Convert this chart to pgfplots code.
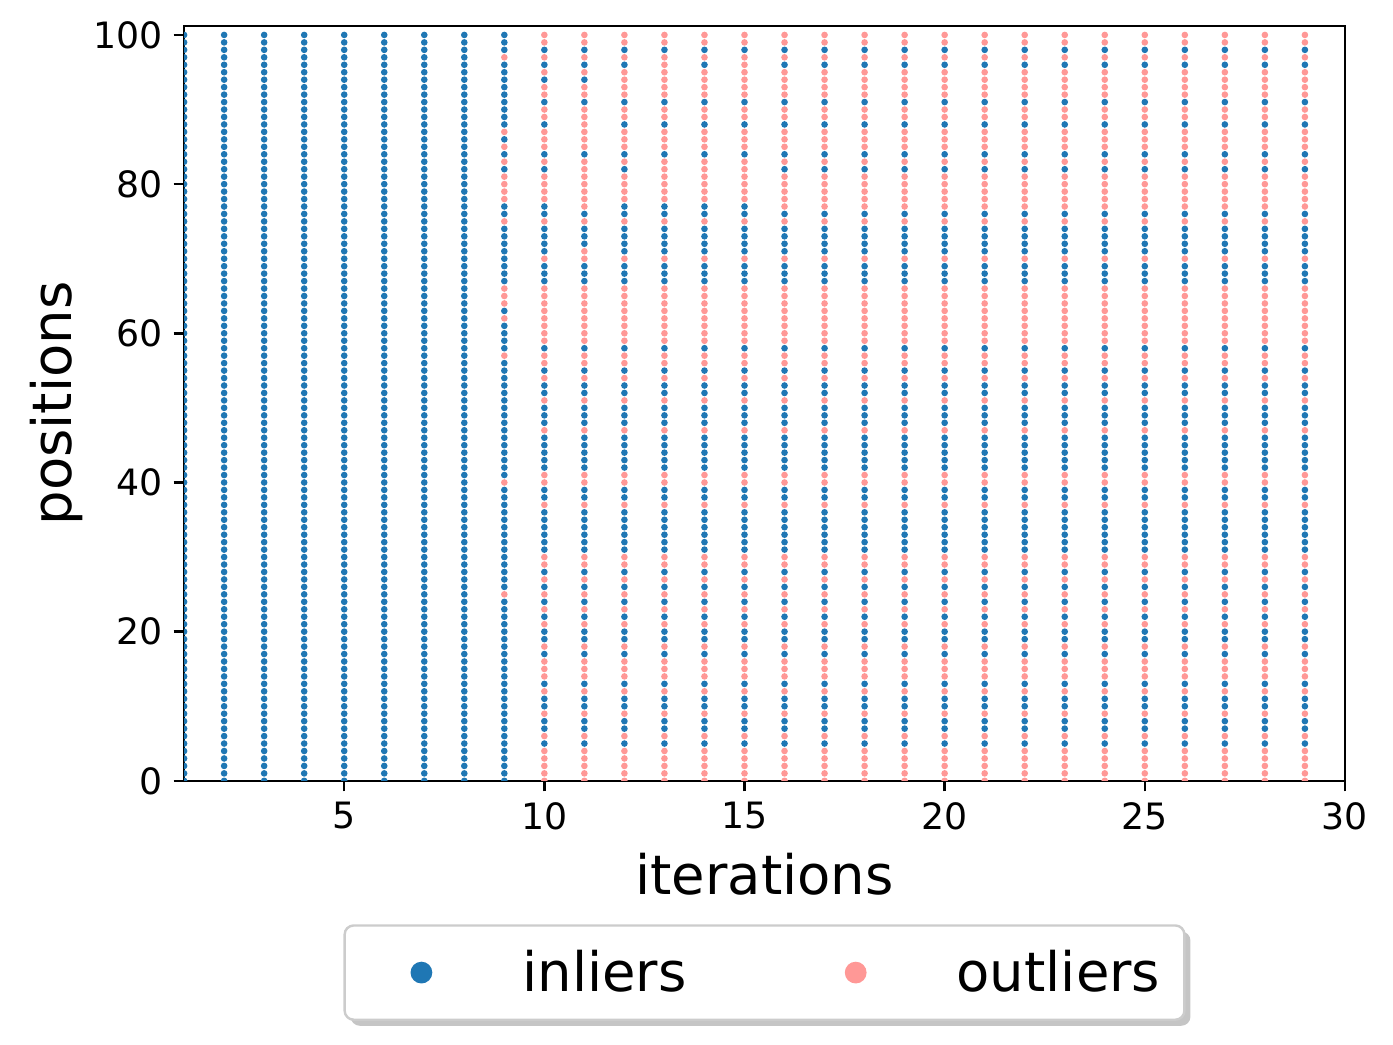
\documentclass[border=0pt]{standalone}
\usepackage{fontspec}
\setmainfont{DejaVu Sans}
\usepackage{pgfplots}
\usepackage{pgfplotstable}
\pgfplotsset{compat=1.18}
\usetikzlibrary{shadows}

\definecolor{inl}{HTML}{1F77B4}
\definecolor{outl}{HTML}{FF9896}

% label of each position (row) at each iteration (column): 0 = inlier, 1 = outlier
\pgfplotstableread{
p   i1 i2 i3 i4 i5 i6 i7 i8 i9 i10 i11 i12 i13 i14 i15 i16 i17 i18 i19 i20 i21 i22 i23 i24 i25 i26 i27 i28 i29
100  0 0 0 0 0 0 0 0  0  1 1 1 1 1 1  1 1 1 1 1 1 1 1 1 1 1 1 1 1
99   0 0 0 0 0 0 0 0  0  1 1 1 1 1 1  1 1 1 1 1 1 1 1 1 1 1 1 1 1
98   0 0 0 0 0 0 0 0  0  0 0 0 0 0 0  0 0 0 0 0 0 0 0 0 0 0 0 0 0
97   0 0 0 0 0 0 0 0  1  1 1 1 1 1 1  1 1 1 1 1 1 1 1 1 1 1 1 1 1
96   0 0 0 0 0 0 0 0  0  0 0 0 1 0 1  0 0 0 0 0 0 0 0 0 0 0 0 0 0
95   0 0 0 0 0 0 0 0  0  1 1 1 1 1 1  1 1 1 1 1 1 1 1 1 1 1 1 1 1
94   0 0 0 0 0 0 0 0  0  0 0 1 1 1 1  1 1 1 1 1 1 1 1 1 1 1 1 1 1
93   0 0 0 0 0 0 0 0  0  1 1 1 1 1 1  1 1 1 1 1 1 1 1 1 1 1 1 1 1
92   0 0 0 0 0 0 0 0  0  1 1 1 1 1 1  1 1 1 1 1 1 1 1 1 1 1 1 1 1
91   0 0 0 0 0 0 0 0  0  0 0 0 0 0 0  0 0 0 0 0 0 0 0 0 0 0 0 0 0
90   0 0 0 0 0 0 0 0  0  1 1 1 1 1 1  1 1 1 1 1 1 1 1 1 1 1 1 1 1
89   0 0 0 0 0 0 0 0  0  1 1 1 1 1 1  1 1 1 1 1 1 1 1 1 1 1 1 1 1
88   0 0 0 0 0 0 0 0  0  0 1 0 0 0 0  0 0 0 0 0 0 0 0 0 0 0 0 0 0
87   0 0 0 0 0 0 0 0  1  1 1 1 1 1 1  1 1 1 1 1 1 1 1 1 1 1 1 1 1
86   0 0 0 0 0 0 0 0  0  1 1 1 1 1 1  1 1 1 1 1 1 1 1 1 1 1 1 1 1
85   0 0 0 0 0 0 0 0  1  1 1 1 1 1 1  1 1 1 1 1 1 1 1 1 1 1 1 1 1
84   0 0 0 0 0 0 0 0  0  0 0 0 0 0 0  0 0 0 0 0 0 0 0 0 0 0 0 0 0
83   0 0 0 0 0 0 0 0  1  1 1 1 1 1 1  1 1 1 1 1 1 1 1 1 1 1 1 1 1
82   0 0 0 0 0 0 0 0  0  0 1 0 1 1 1  0 0 0 0 0 0 0 0 0 0 0 0 0 0
81   0 0 0 0 0 0 0 0  1  1 1 1 1 1 1  1 1 1 1 1 1 1 1 1 1 1 1 1 1
80   0 0 0 0 0 0 0 0  1  1 1 1 1 1 1  1 1 1 1 1 1 1 1 1 1 1 1 1 1
79   0 0 0 0 0 0 0 0  1  1 1 1 1 1 1  1 1 1 1 1 1 1 1 1 1 1 1 1 1
78   0 0 0 0 0 0 0 0  1  1 1 1 1 1 1  1 1 1 1 1 1 1 1 1 1 1 1 1 1
77   0 0 0 0 0 0 0 0  0  0 1 0 0 0 0  1 1 1 1 1 1 1 1 1 1 1 1 1 1
76   0 0 0 0 0 0 0 0  0  0 0 0 0 0 0  0 0 0 0 0 0 0 0 0 0 0 0 0 0
75   0 0 0 0 0 0 0 0  1  1 1 1 1 1 1  1 1 1 1 1 1 1 1 1 1 1 1 1 1
74   0 0 0 0 0 0 0 0  0  0 0 0 0 0 0  0 0 0 0 0 0 0 0 0 0 0 0 0 0
73   0 0 0 0 0 0 0 0  0  0 0 0 0 0 0  0 0 0 0 0 0 0 0 0 0 0 0 0 0
72   0 0 0 0 0 0 0 0  0  0 0 0 0 0 0  0 0 0 0 0 0 0 0 0 0 0 0 0 0
71   0 0 0 0 0 0 0 0  0  0 1 0 0 0 0  0 0 0 0 0 0 0 0 0 0 0 0 0 0
70   0 0 0 0 0 0 0 0  0  1 1 1 1 1 1  1 1 1 1 1 1 1 1 1 1 1 1 1 1
69   0 0 0 0 0 0 0 0  0  0 0 0 0 0 0  0 0 0 0 0 0 0 0 0 0 0 0 0 0
68   0 0 0 0 0 0 0 0  0  0 0 0 0 0 0  0 0 0 0 0 0 0 0 0 0 0 0 0 0
67   0 0 0 0 0 0 0 0  0  0 0 0 0 0 0  0 0 0 0 0 0 0 0 0 0 0 0 0 0
66   0 0 0 0 0 0 0 0  1  1 1 1 1 1 1  1 1 1 1 1 1 1 1 1 1 1 1 1 1
65   0 0 0 0 0 0 0 0  1  1 1 1 1 1 1  1 1 1 1 1 1 1 1 1 1 1 1 1 1
64   0 0 0 0 0 0 0 0  1  1 1 1 1 1 1  1 1 1 1 1 1 1 1 1 1 1 1 1 1
63   0 0 0 0 0 0 0 0  0  1 1 1 1 1 1  1 1 1 1 1 1 1 1 1 1 1 1 1 1
62   0 0 0 0 0 0 0 0  1  1 1 1 1 1 1  1 1 1 1 1 1 1 1 1 1 1 1 1 1
61   0 0 0 0 0 0 0 0  0  1 1 1 1 1 1  1 1 1 1 1 1 1 1 1 1 1 1 1 1
60   0 0 0 0 0 0 0 0  0  1 1 1 1 1 1  1 1 1 1 1 1 1 1 1 1 1 1 1 1
59   0 0 0 0 0 0 0 0  0  1 1 1 1 1 1  1 1 1 1 1 1 1 1 1 1 1 1 1 1
58   0 0 0 0 0 0 0 0  0  0 0 0 0 0 0  0 0 0 0 0 0 0 0 0 0 0 0 0 0
57   0 0 0 0 0 0 0 0  1  1 1 1 1 1 1  1 1 1 1 1 1 1 1 1 1 1 1 1 1
56   0 0 0 0 0 0 0 0  0  1 1 1 1 1 1  1 1 1 1 1 1 1 1 1 1 1 1 1 1
55   0 0 0 0 0 0 0 0  0  0 0 0 0 0 0  0 0 0 0 0 0 0 0 0 0 0 0 0 0
54   0 0 0 0 0 0 0 0  0  1 1 1 1 1 1  1 1 1 1 1 1 1 1 1 1 1 1 1 1
53   0 0 0 0 0 0 0 0  0  0 0 0 0 0 0  0 0 0 0 0 0 0 0 0 0 0 0 0 0
52   0 0 0 0 0 0 0 0  0  0 0 0 0 0 0  0 0 0 0 0 0 0 0 0 0 0 0 0 0
51   0 0 0 0 0 0 0 0  0  1 1 1 1 1 1  1 1 1 1 1 1 1 1 1 1 1 1 1 1
50   0 0 0 0 0 0 0 0  0  0 0 0 0 0 0  0 0 0 0 0 0 0 0 0 0 0 0 0 0
49   0 0 0 0 0 0 0 0  0  0 0 0 0 0 0  0 0 0 0 0 0 0 0 0 0 0 0 0 0
48   0 0 0 0 0 0 0 0  0  0 0 0 0 0 0  0 0 0 0 0 0 0 0 0 0 0 0 0 0
47   0 0 0 0 0 0 0 0  0  1 1 1 1 1 1  1 1 1 1 1 1 1 1 1 1 1 1 1 1
46   0 0 0 0 0 0 0 0  0  0 0 0 0 0 0  0 0 0 0 0 0 0 0 0 0 0 0 0 0
45   0 0 0 0 0 0 0 0  0  0 0 0 0 0 0  0 0 0 0 0 0 0 0 0 0 0 0 0 0
44   0 0 0 0 0 0 0 0  0  0 0 0 0 0 0  0 0 0 0 0 0 0 0 0 0 0 0 0 0
43   0 0 0 0 0 0 0 0  0  0 0 0 0 0 0  0 0 0 0 0 0 0 0 0 0 0 0 0 0
42   0 0 0 0 0 0 0 0  0  0 0 0 0 0 0  0 0 0 0 0 0 0 0 0 0 0 0 0 0
41   0 0 0 0 0 0 0 0  0  1 1 1 1 1 1  1 1 1 1 1 1 1 1 1 1 1 1 1 1
40   0 0 0 0 0 0 0 0  1  1 1 1 1 1 1  1 1 1 1 1 1 1 1 1 1 1 1 1 1
39   0 0 0 0 0 0 0 0  0  0 0 0 0 0 0  0 0 0 0 0 0 0 0 0 0 0 0 0 0
38   0 0 0 0 0 0 0 0  0  0 0 0 0 0 0  0 0 0 0 0 0 0 0 0 0 0 0 0 0
37   0 0 0 0 0 0 0 0  0  1 1 1 1 1 1  1 1 1 1 1 1 1 1 1 1 1 1 1 1
36   0 0 0 0 0 0 0 0  0  0 0 0 0 0 0  0 0 0 0 0 0 0 0 0 0 0 0 0 0
35   0 0 0 0 0 0 0 0  0  0 0 0 0 0 0  0 0 0 0 0 0 0 0 0 0 0 0 0 0
34   0 0 0 0 0 0 0 0  0  0 0 0 0 0 0  0 0 0 0 0 0 0 0 0 0 0 0 0 0
33   0 0 0 0 0 0 0 0  0  0 0 0 0 0 0  0 0 0 0 0 0 0 0 0 0 0 0 0 0
32   0 0 0 0 0 0 0 0  0  0 0 0 0 0 0  0 0 0 0 0 0 0 0 0 0 0 0 0 0
31   0 0 0 0 0 0 0 0  0  0 0 0 0 0 0  0 0 0 0 0 0 0 0 0 0 0 0 0 0
30   0 0 0 0 0 0 0 0  0  1 1 1 1 1 1  1 1 1 1 1 1 1 1 1 1 1 1 1 1
29   0 0 0 0 0 0 0 0  0  1 1 1 1 1 1  1 1 1 1 1 1 1 1 1 1 1 1 1 1
28   0 0 0 0 0 0 0 0  0  0 0 0 0 0 0  0 0 0 0 0 0 0 0 0 0 0 0 0 0
27   0 0 0 0 0 0 0 0  0  1 1 1 1 1 1  1 1 1 1 1 1 1 1 1 1 1 1 1 1
26   0 0 0 0 0 0 0 0  0  0 0 0 0 0 0  0 0 0 0 0 0 0 0 0 0 0 0 0 0
25   0 0 0 0 0 0 0 0  1  1 1 1 1 1 1  1 1 1 1 1 1 1 1 1 1 1 1 1 1
24   0 0 0 0 0 0 0 0  0  0 0 0 0 0 0  0 0 0 0 0 0 0 0 0 0 0 0 0 0
23   0 0 0 0 0 0 0 0  0  1 1 1 1 1 1  1 1 1 1 1 1 1 1 1 1 1 1 1 1
22   0 0 0 0 0 0 0 0  0  0 0 0 0 0 0  0 0 0 0 0 0 0 0 0 0 0 0 0 0
21   0 0 0 0 0 0 0 0  0  1 1 1 1 1 1  1 1 1 1 1 1 1 1 1 1 1 1 1 1
20   0 0 0 0 0 0 0 0  0  0 0 0 0 0 0  0 0 0 0 0 0 0 0 0 0 0 0 0 0
19   0 0 0 0 0 0 0 0  0  0 0 0 0 0 0  0 0 0 0 0 0 0 0 0 0 0 0 0 0
18   0 0 0 0 0 0 0 0  0  1 1 1 1 1 1  1 1 1 1 1 1 1 1 1 1 1 1 1 1
17   0 0 0 0 0 0 0 0  0  0 0 0 0 0 0  0 0 0 0 0 0 0 0 0 0 0 0 0 0
16   0 0 0 0 0 0 0 0  0  1 1 1 1 1 1  1 1 1 1 1 1 1 1 1 1 1 1 1 1
15   0 0 0 0 0 0 0 0  0  1 1 1 1 1 1  1 1 1 1 1 1 1 1 1 1 1 1 1 1
14   0 0 0 0 0 0 0 0  0  1 1 1 1 1 1  1 1 1 1 1 1 1 1 1 1 1 1 1 1
13   0 0 0 0 0 0 0 0  0  0 0 0 0 0 0  0 0 0 0 0 0 0 0 0 0 0 0 0 0
12   0 0 0 0 0 0 0 0  0  1 1 1 1 1 1  1 1 1 1 1 1 1 1 1 1 1 1 1 1
11   0 0 0 0 0 0 0 0  0  0 0 0 0 0 0  0 0 0 0 0 0 0 0 0 0 0 0 0 0
10   0 0 0 0 0 0 0 0  0  0 0 0 0 0 0  0 0 0 0 0 0 0 0 0 0 0 0 0 0
9    0 0 0 0 0 0 0 0  0  1 1 1 1 1 1  1 1 1 1 1 1 1 1 1 1 1 1 1 1
8    0 0 0 0 0 0 0 0  0  0 0 0 0 0 0  0 0 0 0 0 0 0 0 0 0 0 0 0 0
7    0 0 0 0 0 0 0 0  0  0 0 0 0 0 0  0 0 0 0 0 0 0 0 0 0 0 0 0 0
6    0 0 0 0 0 0 0 0  0  1 1 1 1 1 1  1 1 1 1 1 1 1 1 1 1 1 1 1 1
5    0 0 0 0 0 0 0 0  0  0 0 0 0 0 0  0 0 0 0 0 0 0 0 0 0 0 0 0 0
4    0 0 0 0 0 0 0 0  0  1 1 1 1 1 1  1 1 1 1 1 1 1 1 1 1 1 1 1 1
3    0 0 0 0 0 0 0 0  0  1 1 1 1 1 1  1 1 1 1 1 1 1 1 1 1 1 1 1 1
2    0 0 0 0 0 0 0 0  0  1 1 1 1 1 1  1 1 1 1 1 1 1 1 1 1 1 1 1 1
1    0 0 0 0 0 0 0 0  0  1 1 1 1 1 1  1 1 1 1 1 1 1 1 1 1 1 1 1 1
0    0 0 0 0 0 0 0 0  0  1 1 1 1 1 1  1 1 1 1 1 1 1 1 1 1 1 1 1 1
}\labels

\begin{document}
\begin{tikzpicture}
\path[use as bounding box] (0,0) rectangle (460.8pt,345.6pt);
\begin{axis}[
    at={(60.9pt,87.3pt)}, anchor=south west,
    scale only axis,
    width=384pt, height=249.7pt,
    xmin=1, xmax=30,
    ymin=0, ymax=101.2,
    clip marker paths=true,
    xtick={5,10,...,30},
    ytick={0,20,...,100},
    tick align=outside,
    tick pos=left,
    major tick length=3.5pt,
    every tick/.style={black, line width=0.8pt},
    axis line style={line width=0.8pt},
    ticklabel style={font=\fontsize{12}{14}\selectfont},
    /pgf/number format/assume math mode=true,
    xlabel={iterations},
    ylabel={positions},
    label style={font=\fontsize{18}{21}\selectfont},
    xlabel style={at={(axis description cs:0.5,-0.151)}, anchor=base},
    ylabel style={at={(axis description cs:-0.097,0.5)}, anchor=base},
    legend columns=2,
    legend style={
        at={(0.5,-0.19)}, anchor=north,
        draw=black!20, line width=0.8pt, rounded corners=3pt, fill=white,
        drop shadow={shadow xshift=2pt, shadow yshift=-2pt, fill=black!45},
        font=\fontsize{18}{21}\selectfont,
        inner xsep=8pt, inner ysep=8pt,
        nodes={inner sep=0pt},
        /tikz/every even column/.append style={column sep=38.6pt},
    },
    legend image code/.code={
        \begin{scope}[#1]
        \pgfpathcircle{\pgfpoint{17pt}{0pt}}{3.6pt}
        \pgfusepath{fill}
        \end{scope}
        \path (0pt,0pt) (50pt,0pt);
    },
]
\pgfplotsinvokeforeach{1,...,29}{
    \addplot[scatter, only marks, forget plot, mark=*, mark size=0.88pt,
        scatter src=explicit symbolic,
        scatter/classes={0={inl}, 1={outl}}]
        table[x expr=#1, y=p, meta=i#1] {\labels};
}
\addlegendimage{inl}
\addlegendentry{inliers}
\addlegendimage{outl}
\addlegendentry{outliers}
\end{axis}
\end{tikzpicture}
\end{document}
